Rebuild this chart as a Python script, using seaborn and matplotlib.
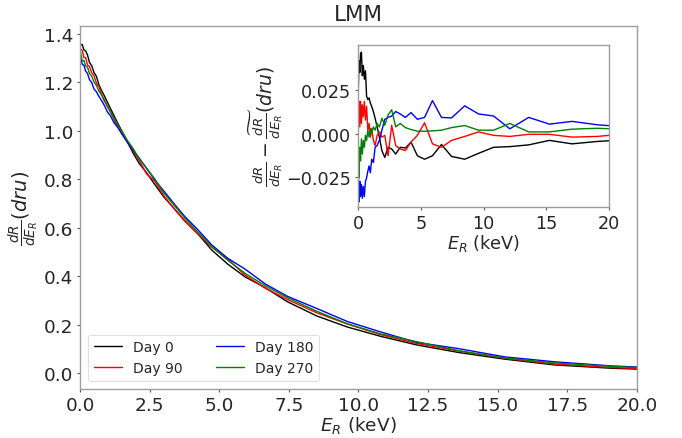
import matplotlib
matplotlib.use("Agg")
import matplotlib.pyplot as plt
import numpy as np
import pandas as pd
import seaborn as sns

# ---------------- data ----------------
energy = [0.02, 0.08, 0.14, 0.2, 0.27, 0.34, 0.42, 0.5, 0.59, 0.68,
          0.78, 0.88, 0.98, 1.09, 1.22, 1.36, 1.52, 1.7, 1.9, 2.13,
          2.39, 2.68, 3.0, 3.36, 3.77, 4.22, 4.73, 5.3, 5.93, 6.65,
          7.45, 8.5, 9.6, 10.8, 12.1, 13.6, 15.25, 17.05, 19.1, 21.4]

# averaged spectrum (the "tilde" curve)
mean_rate = [1.330, 1.314, 1.299, 1.284, 1.266, 1.249, 1.230, 1.210, 1.189, 1.168,
             1.146, 1.123, 1.102, 1.078, 1.051, 1.022, 0.991, 0.957, 0.920, 0.879,
             0.836, 0.789, 0.741, 0.691, 0.637, 0.582, 0.522, 0.466, 0.411, 0.360,
             0.309, 0.252, 0.203, 0.161, 0.125, 0.093, 0.063, 0.041, 0.026, 0.016]

resid_day0 = [0.0256, 0.0423, 0.0354, 0.0463, 0.0472, 0.0335, 0.0394, 0.0315, 0.0364, 0.0217,
              0.0197, 0.0207, 0.0177, 0.0157, 0.0128, 0.0089, 0.0039, -0.0020, -0.0098, -0.0138,
              -0.0079, -0.0089, -0.0118, -0.0079, -0.0083, -0.0049, -0.0128, -0.0148, -0.0128, -0.0063,
              -0.0132, -0.0148, -0.0114, -0.0079, -0.0075, -0.0065, -0.0039, -0.0059, -0.0045, -0.0035]

resid_day90 = [0.0079, 0.0187, 0.0039, 0.0187, 0.0059, 0.0167, 0.0098, 0.0187, 0.0079, 0.0157,
               0.0020, 0.0059, -0.0020, 0.0030, -0.0039, -0.0069, -0.0010, 0.0010, -0.0020, -0.0010,
               -0.0128, 0.0049, -0.0069, -0.0089, -0.0098, -0.0049, -0.0010, 0.0063, -0.0059, -0.0079,
               -0.0039, -0.0016, 0.0010, -0.0010, -0.0016, -0.0004, -0.0004, -0.0020, -0.0016, 0.0000]

resid_day180 = [-0.0236, -0.0394, -0.0276, -0.0364, -0.0295, -0.0374, -0.0305, -0.0364, -0.0276, -0.0256,
                -0.0217, -0.0187, -0.0226, -0.0148, -0.0167, -0.0079, -0.0069, -0.0039, 0.0020, 0.0083,
                0.0094, 0.0102, 0.0128, 0.0114, 0.0094, 0.0122, 0.0083, 0.0094, 0.0191, 0.0094,
                0.0091, 0.0161, 0.0114, 0.0102, 0.0028, 0.0094, 0.0055, 0.0071, 0.0051, 0.0039]

resid_day270 = [-0.0039, -0.0256, -0.0079, -0.0157, -0.0030, -0.0118, -0.0039, -0.0079, -0.0010, -0.0039,
                0.0020, -0.0020, 0.0030, 0.0000, 0.0039, 0.0020, 0.0059, 0.0039, 0.0089, 0.0049,
                0.0108, 0.0138, 0.0039, 0.0059, 0.0035, 0.0024, 0.0014, 0.0014, 0.0016, 0.0020,
                0.0035, 0.0047, 0.0020, 0.0020, 0.0059, 0.0010, 0.0010, 0.0026, 0.0031, 0.0024]

days = ["Day 0", "Day 90", "Day 180", "Day 270"]
colors = ["black", "red", "blue", "green"]
main_xticks = [0.0, 2.5, 5.0, 7.5, 10.0, 12.5, 15.0, 17.5, 20.0]
main_yticks = [0.0, 0.2, 0.4, 0.6, 0.8, 1.0, 1.2, 1.4]
inset_xticks = [0, 5, 10, 15, 20]
inset_yticks = [-0.025, 0.0, 0.025]

# ---------------- tidy table ----------------
resids = [resid_day0, resid_day90, resid_day180, resid_day270]
rows = []
for d, r in zip(days, resids):
    for e, m, dr in zip(energy, mean_rate, r):
        rows.append({"E": e, "rate": m + dr, "diff": dr, "day": d})
df = pd.DataFrame(rows)
palette = dict(zip(days, colors))

# ---------------- plot ----------------
sns.set_style("ticks")
plt.rcParams["font.family"] = ["DejaVu Sans"]

fig = plt.figure(figsize=(6.82, 4.39), dpi=100)
ax = fig.add_axes([0.1173, 0.1116, 0.8167, 0.827])
axins = fig.add_axes([0.525, 0.526, 0.368, 0.370])

sns.lineplot(data=df, x="E", y="rate", hue="day", hue_order=days, palette=palette,
             estimator=None, sort=True, linewidth=1.0, ax=ax)
sns.lineplot(data=df, x="E", y="diff", hue="day", hue_order=days, palette=palette,
             estimator=None, sort=True, linewidth=1.0, ax=axins, legend=False)

ax.set_xlim(0, 20)
ax.set_ylim(-0.064, 1.433)
ax.set_xticks(main_xticks)
ax.set_yticks(main_yticks)
ax.set_xticklabels([f"{v:.1f}" for v in main_xticks])
ax.set_yticklabels([f"{v:.1f}" for v in main_yticks])
ax.tick_params(labelsize=13.3, length=2.5, width=0.8, pad=2.5, color="0.35")
ax.set_xlabel(r"$E_R$ (keV)", fontsize=13.3, labelpad=0)
ax.set_ylabel(r"$\frac{dR}{dE_R}(dru)$", fontsize=14, labelpad=2)
ax.set_title("LMM", fontsize=15.5, pad=4)

leg = ax.legend(loc="lower left", ncol=2, fontsize=10, frameon=True,
                columnspacing=2.4, handlelength=2.0, borderaxespad=0.6)
leg.get_frame().set_edgecolor("0.85")
leg.get_frame().set_linewidth(0.8)

axins.set_xlim(0, 20)
axins.set_ylim(-0.0425, 0.0515)
axins.set_xticks(inset_xticks)
axins.set_yticks(inset_yticks)
axins.set_yticklabels(["\u22120.025", "0.000", "0.025"])
axins.tick_params(labelsize=12.7, length=2.5, width=0.8, pad=2.5, color="0.35")
axins.set_xlabel(r"$E_R$ (keV)", fontsize=12.7, labelpad=0)
axins.set_ylabel(r"$\frac{dR}{dE_R}-\widetilde{\frac{dR}{dE_R}}(dru)$", fontsize=13.5, labelpad=1)

for a in (ax, axins):
    for s in a.spines.values():
        s.set_visible(True)
        s.set_color("0.62")
        s.set_linewidth(1.0)

fig.savefig("out.png", dpi=100)
